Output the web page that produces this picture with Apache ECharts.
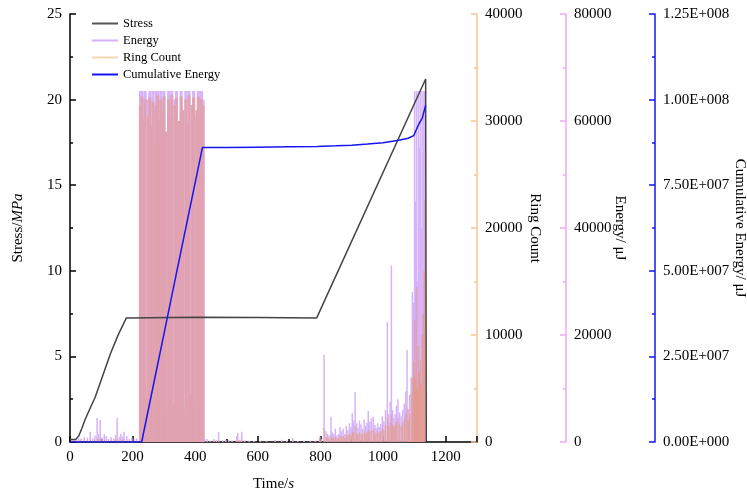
<!DOCTYPE html>
<html>
<head>
<meta charset="utf-8">
<title>Stress / AE</title>
<script src="https://cdn.jsdelivr.net/npm/echarts@6/dist/echarts.min.js"></script>
<style>
  html, body { margin: 0; padding: 0; background: #fff; }
  #main { width: 747px; height: 495px; }
</style>
</head>
<body>
<div id="main"></div>
<script>
// stress curve (MPa)
var stressTime = [0, 18, 28, 38, 48, 65, 80, 105, 130, 155, 180, 400, 600, 788, 1136, 1138];
var stressVals = [0.15, 0.15, 0.35, 0.8, 1.3, 2.0, 2.6, 3.9, 5.2, 6.3, 7.25, 7.28, 7.27, 7.25, 21.2, 0];

// cumulative energy (uJ)
var cumTime = [0, 229, 260, 300, 340, 380, 423, 500, 600, 700, 790, 850, 900, 950, 1000, 1050, 1080, 1098, 1110, 1118, 1125, 1132, 1136];
var cumVals = [0, 0, 1.38e7, 3.15e7, 4.93e7, 6.7e7, 8.6e7, 8.6e7, 8.61e7, 8.62e7, 8.63e7, 8.65e7, 8.67e7, 8.7e7, 8.74e7, 8.81e7, 8.87e7, 8.95e7, 9.2e7, 9.35e7, 9.45e7, 9.7e7, 9.84e7];

// AE hits in the dense 225 - 425 s band: time (s), energy (uJ), ring count
var bandTime = [225, 230, 235, 240, 245, 250, 255, 260, 265, 270, 275, 280, 285, 290, 295, 300, 305, 310, 315, 320, 325, 330, 335, 340, 345, 350,
  355, 360, 365, 370, 375, 380, 385, 390, 395, 400, 405, 410, 415, 420, 425];
var bandEnergy = [65600, 65600, 61000, 65600, 2500, 64000, 65600, 59000, 65600, 62000, 65600, 65600, 60000, 65600, 63000, 65600, 58000, 9000, 65600, 61000, 65600, 7000, 64000, 65600, 12000, 60000,
  65600, 62000, 6000, 65600, 59000, 65600, 8000, 63000, 65600, 5000, 61000, 65600, 58500, 65600, 64000];
var bandRing = [31500, 32300, 30000, 32000, 4200, 30500, 32200, 29500, 31800, 28000, 31500, 32400, 30000, 32000, 31000, 32300, 29000, 2500, 32000, 30500, 32400, 3500, 31500, 32200, 4000, 30000,
  32300, 31000, 3000, 32000, 29800, 32400, 4500, 31500, 32200, 3800, 31000, 32300, 30500, 32000, 31500];

// AE hits elsewhere: time (s), energy (uJ), ring count
var acTime = [
  // 0 - 220 s
  8, 15, 22, 30, 38, 48, 58, 67, 75, 82, 89, 94, 99, 105, 112, 118, 125, 134, 142, 148, 153, 160, 165, 170, 175, 184, 192, 200, 208, 215,
  // 430 - 790 s
  432, 440, 450, 462, 470, 477, 490, 500, 509, 520, 535, 538, 545, 551, 560, 575, 590, 610, 630, 658, 679, 695, 714, 730, 750, 770, 785,
  // 800 - 1140 s
  800, 805, 814, 820, 825, 830, 836, 840, 845, 850, 855, 860, 865, 870, 875, 880, 885, 890, 895, 900,
  904, 908, 913, 918, 922, 927, 932, 937, 942, 947, 951, 955, 960, 965, 971, 976, 980, 985, 990, 995,
  1000, 1005, 1010, 1016, 1020, 1025, 1029, 1033, 1037, 1041, 1045, 1050, 1055, 1060, 1065, 1070, 1075, 1079, 1083, 1087,
  1092, 1096, 1100, 1103, 1106, 1109, 1112, 1115, 1118, 1121, 1124, 1127, 1130, 1133, 1136
];
var energyVals = [
  300, 500, 400, 700, 600, 900, 800, 1900, 700, 1200, 4500, 1500, 4100, 900, 1500, 1100, 600, 900, 700, 1300, 4500, 900, 1500, 1000, 1900, 1100, 600, 800, 500, 700,
  500, 560, 300, 560, 400, 1900, 300, 350, 400, 300, 1100, 1700, 400, 1900, 300, 250, 200, 200, 250, 400, 400, 250, 750, 200, 200, 250, 300,
  1000, 500, 16300, 2000, 1500, 1200, 4700, 1800, 1500, 2500, 1200, 1500, 2800, 2000, 2500, 1500, 3000, 2200, 3500, 2800,
  5400, 4000, 9300, 3500, 2600, 4000, 3300, 2500, 4200, 3000, 3600, 5800, 3800, 4400, 4700, 3200, 2600, 3500, 2800, 3300,
  4800, 3900, 6000, 22400, 5200, 7500, 33000, 6000, 4500, 5200, 6800, 8000, 5500, 4800, 6000, 7200, 9500, 17200, 6200, 8800,
  12000, 28000, 26000, 65600, 45000, 65600, 30000, 65600, 55000, 65600, 40000, 65600, 62000, 65600, 65600
];
var ringVals = [
  100, 150, 120, 200, 250, 280, 200, 300, 150, 200, 350, 250, 300, 150, 200, 150, 120, 200, 150, 180, 300, 150, 200, 150, 250, 180, 120, 150, 100, 120,
  150, 100, 80, 100, 80, 200, 60, 80, 80, 60, 150, 180, 80, 200, 60, 60, 50, 50, 60, 80, 80, 60, 120, 50, 50, 60, 80,
  300, 200, 1300, 500, 400, 350, 600, 400, 450, 500, 350, 400, 600, 500, 550, 400, 700, 600, 800, 700,
  1000, 900, 1500, 800, 700, 900, 800, 700, 1000, 800, 900, 1200, 1000, 1100, 1200, 900, 800, 1000, 900, 1000,
  1300, 1100, 1600, 2300, 1500, 1800, 2500, 1600, 1400, 1600, 1900, 2200, 1700, 1500, 1800, 2100, 2600, 3200, 2000, 2600,
  4500, 6000, 7500, 11400, 6000, 14500, 5000, 9000, 6500, 7700, 5500, 10000, 12000, 16000, 22600
];

function pairs(xs, ys) {
    var out = [];
    for (var i = 0; i < xs.length; i++) {
        out.push([xs[i], ys[i]]);
    }
    return out;
}

function plainLabel(v) {
    return String(v);
}

function sciLabel(v) {
    if (v === 0) return '0.00E+000';
    var e = Math.floor(Math.log10(v) + 1e-9);
    var m = v / Math.pow(10, e);
    return m.toFixed(2) + 'E+' + String(e).padStart(3, '0');
}

var serif = 'Liberation Serif';
var energyColor = '#d6b2fb';
var ringColor = 'rgba(242,130,26,0.33)';
var ringOverEnergy = '#e1a2b1';   // ring count drawn over the energy band
var chart = echarts.init(document.getElementById('main'));

function rightAxis(color, max, interval, offset, name, gap, fmt) {
    return {
        type: 'value',
        position: 'right',
        offset: offset,
        min: 0,
        max: max,
        interval: interval,
        name: name,
        nameLocation: 'middle',
        nameGap: gap,
        nameRotate: -90,
        nameMoveOverlap: false,
        nameTextStyle: { fontFamily: serif, fontSize: 15, color: '#000' },
        axisLine: { show: true, lineStyle: { color: color, width: 1.5 } },
        axisTick: { show: true, inside: true, length: 6, lineStyle: { color: color, width: 1.5 } },
        minorTick: { show: true, splitNumber: 2, length: 3, lineStyle: { color: color, width: 1.5 } },
        axisLabel: { fontFamily: serif, fontSize: 15, color: '#000', margin: 8, formatter: fmt },
        splitLine: { show: false }
    };
}

var option = {
    animation: false,
    backgroundColor: '#fff',
    grid: { left: 70, right: 270, top: 14, bottom: 53, outerBoundsMode: 'none', containLabel: false },
    legend: {
        orient: 'vertical',
        left: 87,
        top: 12,
        itemGap: 4,
        itemWidth: 26,
        itemHeight: 2,
        icon: 'rect',
        textStyle: { fontFamily: serif, fontSize: 12.5, color: '#000' },
        data: ['Stress', 'Energy', 'Ring Count', 'Cumulative Energy']
    },
    xAxis: {
        type: 'value',
        min: 0,
        max: 1300,
        interval: 200,
        name: 'Time/{i|s}',
        nameLocation: 'middle',
        nameGap: 35,
        nameMoveOverlap: false,
        nameTextStyle: { fontFamily: serif, fontSize: 15, color: '#000', rich: { i: { fontFamily: serif, fontSize: 15, fontStyle: 'italic' } } },
        axisLine: { lineStyle: { color: '#000', width: 1.5 } },
        axisTick: { inside: true, length: 6, lineStyle: { color: '#000', width: 1.5 } },
        minorTick: { show: true, splitNumber: 2, length: 3, lineStyle: { color: '#000', width: 1.5 } },
        axisLabel: { fontFamily: serif, fontSize: 15, color: '#000', margin: 8, showMaxLabel: false, formatter: plainLabel },
        splitLine: { show: false }
    },
    yAxis: [
        {
            type: 'value',
            position: 'left',
            min: 0,
            max: 25,
            interval: 5,
            name: 'Stress/{i|MPa}',
            nameLocation: 'middle',
            nameGap: 44,
            nameMoveOverlap: false,
            nameTextStyle: { fontFamily: serif, fontSize: 15, color: '#000', rich: { i: { fontFamily: serif, fontSize: 15, fontStyle: 'italic' } } },
            axisLine: { show: true, lineStyle: { color: '#000', width: 1.5 } },
            axisTick: { show: true, inside: true, length: 6, lineStyle: { color: '#000', width: 1.5 } },
            minorTick: { show: true, splitNumber: 2, length: 3, lineStyle: { color: '#000', width: 1.5 } },
            axisLabel: { fontFamily: serif, fontSize: 15, color: '#000', margin: 8 },
            splitLine: { show: false }
        },
        rightAxis('#f8c396', 40000, 10000, 0, 'Ring Count', 50, plainLabel),
        rightAxis('#f0a6f6', 80000, 20000, 89, 'Energy/ μJ', 46, plainLabel),
        rightAxis('#1515f0', 1.25e8, 2.5e7, 178, 'Cumulative Energy/ μJ', 77, sciLabel)
    ],
    series: [
        {
            name: 'Energy',
            type: 'bar',
            yAxisIndex: 2,
            barWidth: 1.5,
            barGap: '-100%',
            itemStyle: { color: energyColor },
            data: pairs(acTime, energyVals)
        },
        {
            name: 'Energy',
            type: 'bar',
            yAxisIndex: 2,
            barWidth: 3,
            barGap: '-100%',
            itemStyle: { color: energyColor },
            data: pairs(bandTime, bandEnergy)
        },
        {
            name: 'Ring Count',
            type: 'bar',
            yAxisIndex: 1,
            barWidth: 1.5,
            barGap: '-100%',
            itemStyle: { color: ringColor },
            data: pairs(acTime, ringVals)
        },
        {
            name: 'Ring Count',
            type: 'bar',
            yAxisIndex: 1,
            barWidth: 3,
            barGap: '-100%',
            itemStyle: { color: ringOverEnergy },
            data: pairs(bandTime, bandRing)
        },
        {
            name: 'Stress',
            type: 'line',
            yAxisIndex: 0,
            showSymbol: false,
            lineStyle: { color: '#444', width: 1.5 },
            itemStyle: { color: '#555' },
            data: pairs(stressTime, stressVals)
        },
        {
            name: 'Cumulative Energy',
            type: 'line',
            yAxisIndex: 3,
            showSymbol: false,
            lineStyle: { color: '#1515f0', width: 1.5 },
            itemStyle: { color: '#1515f0' },
            data: pairs(cumTime, cumVals)
        }
    ]
};

chart.setOption(option);
</script>
</body>
</html>
